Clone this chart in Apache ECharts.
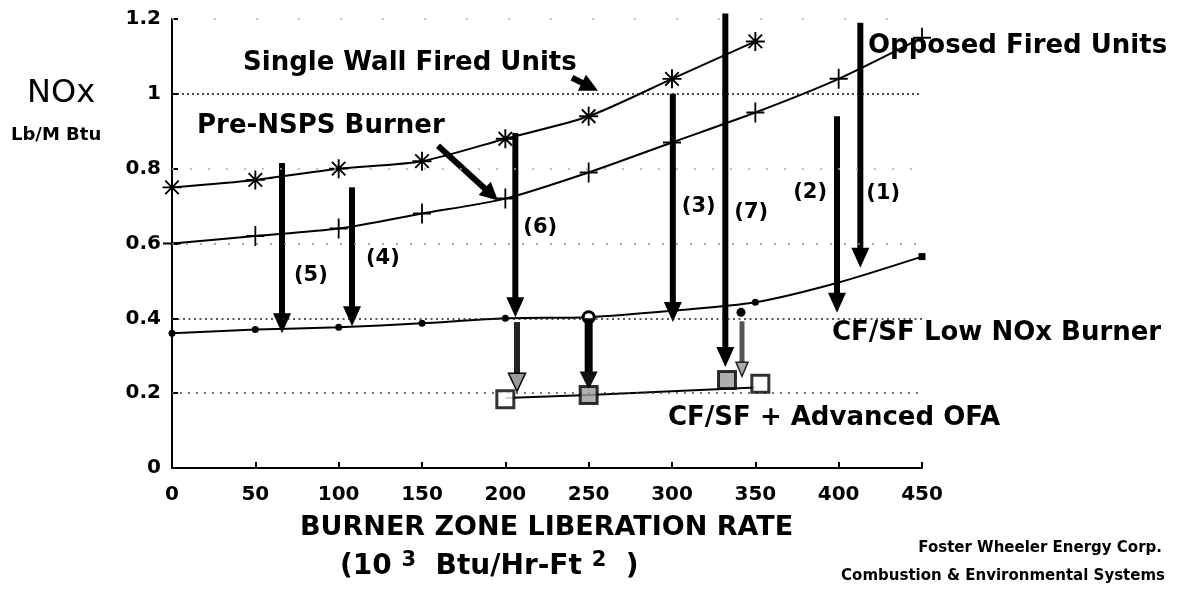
<!DOCTYPE html>
<html>
<head>
<meta charset="utf-8">
<script src="https://cdn.jsdelivr.net/npm/echarts@6/dist/echarts.min.js"></script>
<style>
  html, body { margin: 0; padding: 0; background: #fff; }
  #chart { width: 1186px; height: 589px; }
</style>
</head>
<body>
<div id="chart"></div>
<script>
// NOx emissions (Lb/M Btu) versus burner zone liberation rate (10^3 Btu/Hr-Ft^2)
const singleWall   = [[0, 0.75], [50, 0.77], [100, 0.80], [150, 0.82], [200, 0.88], [250, 0.94], [300, 1.04], [350, 1.14]];
const opposedFired = [[0, 0.60], [50, 0.62], [100, 0.64], [150, 0.68], [200, 0.72], [250, 0.79], [300, 0.87], [350, 0.95], [400, 1.04], [450, 1.15]];
const lowNox       = [[0, 0.36], [50, 0.37], [100, 0.376], [150, 0.387], [200, 0.40], [250, 0.403], [300, 0.42], [350, 0.443], [400, 0.496], [450, 0.565]];
const lowNoxMarks  = ['dot', 'dot', 'dot', 'dot', 'dot', 'ring', 'none', 'dot', 'none', 'end'];
const ofaTrend     = [[200, 0.187], [250, 0.195], [350, 0.215]];
const ofaPoints    = [[200, 0.184], [250, 0.195], [333, 0.235], [353, 0.225]];
const ofaFills     = ['#ffffff', '#9a9a9a', '#9a9a9a', '#ffffff'];

// Reduction steps: label, x, NOx before, NOx after
const reductionLabels = ['(1)', '(2)', '(3)', '(4)', '(5)', '(6)', '(7)'];
const reductionX      = [413, 399, 300.5, 108, 66, 206, 332];
const reductionFrom   = [1.19, 0.94, 1.00, 0.75, 0.815, 0.895, 1.215];
const reductionTo     = [0.535, 0.415, 0.39, 0.379, 0.36, 0.403, 0.27];

// Second-stage reductions onto the advanced OFA line: x, from, to
const ofaArrows = [[207, 0.39, 0.205], [250, 0.40, 0.21], [342, 0.416, 0.245]];

// Pointers from the curve captions: x1, y1, x2, y2
const pointers = [[240, 1.043, 255.6, 1.008], [159.6, 0.861, 195.6, 0.715]];

const gridLevels = [0.2, 0.4, 0.6, 0.8, 1.0, 1.2];
const gridDash   = [[2, 6], [2, 3.5], [2, 12], [2, 16], [2, 3], [2, 40]];
const gridColor  = ['#444', '#222', '#888', '#aaa', '#111', '#aaa'];

// label placement next to each reduction arrow: pixel offset from shaft, NOx level of text centre
const labelPlace = {
  '(1)': { dx: 6,   y: 0.733, align: 'left' },
  '(2)': { dx: -10, y: 0.736, align: 'right' },
  '(3)': { dx: 9,   y: 0.700, align: 'left' },
  '(4)': { dx: 14,  y: 0.560, align: 'left' },
  '(5)': { dx: 12,  y: 0.515, align: 'left' },
  '(6)': { dx: 8,   y: 0.643, align: 'left' },
  '(7)': { dx: 9,   y: 0.683, align: 'left' }
};

const FONT = '"DejaVu Sans", "Liberation Sans", sans-serif';

const asterisk = 'path://M9,0h2v20h-2z M0,9h20v2h-20z M2.2,3.6l1.4,-1.4l14.2,14.2l-1.4,1.4z M16.4,2.2l1.4,1.4l-14.2,14.2l-1.4,-1.4z';
const plus = 'path://M9,0h2v20h-2z M0,9h20v2h-20z';

function arrow(p1, p2, shaftW, headL, headW, shaftColor, headFill, headStroke) {
  const dx = p2[0] - p1[0], dy = p2[1] - p1[1];
  const len = Math.hypot(dx, dy) || 1;
  const ux = dx / len, uy = dy / len, nx = -uy, ny = ux;
  const bx = p2[0] - ux * headL, by = p2[1] - uy * headL;
  return [
    { type: 'line', shape: { x1: p1[0], y1: p1[1], x2: bx + ux * 2, y2: by + uy * 2 },
      style: { stroke: shaftColor, lineWidth: shaftW, lineCap: 'butt' } },
    { type: 'polygon',
      shape: { points: [[p2[0], p2[1]], [bx + nx * headW / 2, by + ny * headW / 2], [bx - nx * headW / 2, by - ny * headW / 2]] },
      style: { fill: headFill, stroke: headStroke || null, lineWidth: headStroke ? 1.5 : 0 } }
  ];
}

const chart = echarts.init(document.getElementById('chart'), null, { renderer: 'canvas' });

const lowNoxData = lowNox.map((p, i) => {
  const m = lowNoxMarks[i];
  if (m === 'none') return { value: p, symbol: 'none' };
  if (m === 'ring') return { value: p, symbol: 'circle', symbolSize: 11, itemStyle: { color: '#fff', borderColor: '#000', borderWidth: 3 } };
  if (m === 'end') return { value: p, symbol: 'rect', symbolSize: 7 };
  return { value: p, symbol: 'circle', symbolSize: 7 };
});

const option = {
  animation: false,
  backgroundColor: '#fff',
  grid: { left: 172, right: 264, top: 19, bottom: 121, containLabel: false },
  xAxis: {
    type: 'value', min: 0, max: 450, interval: 50,
    axisLine: { show: true, onZero: false, lineStyle: { color: '#000', width: 2 } },
    axisTick: { show: true, inside: true, length: 6, lineStyle: { color: '#000', width: 2 } },
    axisLabel: { color: '#000', fontFamily: FONT, fontWeight: 'bold', fontSize: 20, margin: 17 },
    splitLine: { show: false }
  },
  yAxis: {
    type: 'value', min: 0, max: 1.2, interval: 0.2,
    axisLine: { show: true, onZero: false, lineStyle: { color: '#000', width: 2 } },
    axisTick: { show: true, inside: true, length: 6, lineStyle: { color: '#000', width: 2 } },
    axisLabel: { color: '#000', fontFamily: FONT, fontWeight: 'bold', fontSize: 20, margin: 11 },
    splitLine: { show: false }
  },
  series: [
    {
      name: 'Single Wall Fired Units', type: 'line', data: singleWall, smooth: 0.25,
      symbol: asterisk, symbolSize: 19, z: 3,
      lineStyle: { color: '#000', width: 2 }, itemStyle: { color: '#000' },
      markLine: {
        silent: true, symbol: ['none', 'none'], label: { show: false },
        data: gridLevels.map((v, i) => ({ yAxis: v, lineStyle: { color: gridColor[i], width: 1.6, type: gridDash[i] } }))
      }
    },
    {
      name: 'Opposed Fired Units', type: 'line', data: opposedFired, smooth: 0.25,
      symbol: plus, symbolSize: [18, 20], z: 3,
      lineStyle: { color: '#000', width: 2 }, itemStyle: { color: '#000' }
    },
    {
      name: 'CF/SF Low NOx Burner', type: 'line', data: lowNoxData, smooth: 0.25, z: 3,
      lineStyle: { color: '#000', width: 2 }, itemStyle: { color: '#000' }
    },
    {
      name: 'CF/SF + Advanced OFA', type: 'line', data: ofaTrend, smooth: false, symbol: 'none', z: 3,
      lineStyle: { color: '#000', width: 2 }
    },
    {
      type: 'custom', z: 4, clip: false,
      data: reductionX.map((x, i) => [x, reductionFrom[i], reductionTo[i]]),
      encode: { x: 0, y: 1 },
      renderItem: (params, api) => {
        const i = params.dataIndex;
        const x = api.value(0);
        const p1 = api.coord([x, api.value(1)]);
        const p2 = api.coord([x, api.value(2)]);
        const lab = reductionLabels[i];
        const lp = labelPlace[lab];
        const ly = api.coord([x, lp.y])[1];
        return {
          type: 'group',
          children: arrow(p1, p2, 6, 20, 18, '#000', '#000').concat([{
            type: 'text',
            style: { text: lab, x: p1[0] + lp.dx, y: ly, fill: '#000', font: 'bold 21px ' + FONT, align: lp.align, verticalAlign: 'middle' }
          }])
        };
      }
    },
    {
      type: 'custom', z: 4, clip: false,
      data: ofaArrows,
      encode: { x: 0, y: 1 },
      renderItem: (params, api) => {
        const i = params.dataIndex;
        const x = api.value(0);
        const p1 = api.coord([x, api.value(1)]);
        const p2 = api.coord([x, api.value(2)]);
        if (i === 0) return { type: 'group', children: arrow(p1, p2, 6, 18, 17, '#222', '#9a9a9a', '#000') };
        if (i === 1) return { type: 'group', children: arrow(p1, p2, 8, 18, 18, '#000', '#111') };
        return {
          type: 'group',
          children: arrow([p1[0], p1[1] + 9], p2, 5, 14, 12, '#555', '#aaa', '#222').concat([{
            type: 'circle', shape: { cx: p1[0] - 1, cy: p1[1], r: 4.5 }, style: { fill: '#000' }
          }])
        };
      }
    },
    {
      type: 'scatter', z: 5, data: ofaPoints.map((p, i) => ({ value: p, itemStyle: { color: ofaFills[i] } })),
      symbol: 'rect', symbolSize: 17,
      itemStyle: { borderColor: '#000', borderWidth: 3 }
    },
    {
      type: 'custom', z: 4, clip: false,
      data: pointers,
      encode: { x: 0, y: 1 },
      renderItem: (params, api) => {
        const p1 = api.coord([api.value(0), api.value(1)]);
        const p2 = api.coord([api.value(2), api.value(3)]);
        return { type: 'group', children: arrow(p1, p2, 6, 18, 18, '#000', '#000') };
      }
    }
  ],
  graphic: [
    { type: 'text', left: 27, top: 78, style: { text: 'NOx', font: '32px ' + FONT, fill: '#000' } },
    { type: 'text', left: 11, top: 126, style: { text: 'Lb/M Btu', font: 'bold 18px ' + FONT, fill: '#000' } },
    { type: 'text', left: 243, top: 50, style: { text: 'Single Wall Fired Units', font: 'bold 26px ' + FONT, fill: '#000' } },
    { type: 'text', left: 197, top: 113, style: { text: 'Pre-NSPS Burner', font: 'bold 26px ' + FONT, fill: '#000' } },
    { type: 'text', left: 868, top: 33, style: { text: 'Opposed Fired Units', font: 'bold 26px ' + FONT, fill: '#000' } },
    { type: 'text', left: 832, top: 320, style: { text: 'CF/SF Low NOx Burner', font: 'bold 26px ' + FONT, fill: '#000' } },
    { type: 'text', left: 668, top: 405, style: { text: 'CF/SF + Advanced OFA', font: 'bold 26px ' + FONT, fill: '#000' } },
    { type: 'text', left: 300, top: 514, style: { text: 'BURNER ZONE LIBERATION RATE', font: 'bold 27px ' + FONT, fill: '#000' } },
    {
      type: 'text', left: 340, top: 550,
      style: {
        text: '{n|(10 }{s|3}{n|  Btu/Hr-Ft }{s|2}{n|  )}',
        rich: {
          n: { fontFamily: FONT, fontWeight: 'bold', fontSize: 28, lineHeight: 34, fill: '#000' },
          s: { fontFamily: FONT, fontWeight: 'bold', fontSize: 21, lineHeight: 34, verticalAlign: 'top', fill: '#000' }
        }
      }
    },
    { type: 'text', right: 24, top: 541, style: { text: 'Foster Wheeler Energy Corp.', font: 'bold 15px ' + FONT, fill: '#000' } },
    { type: 'text', right: 21, top: 569, style: { text: 'Combustion & Environmental Systems', font: 'bold 15px ' + FONT, fill: '#000' } }
  ]
};

chart.setOption(option);
</script>
</body>
</html>
